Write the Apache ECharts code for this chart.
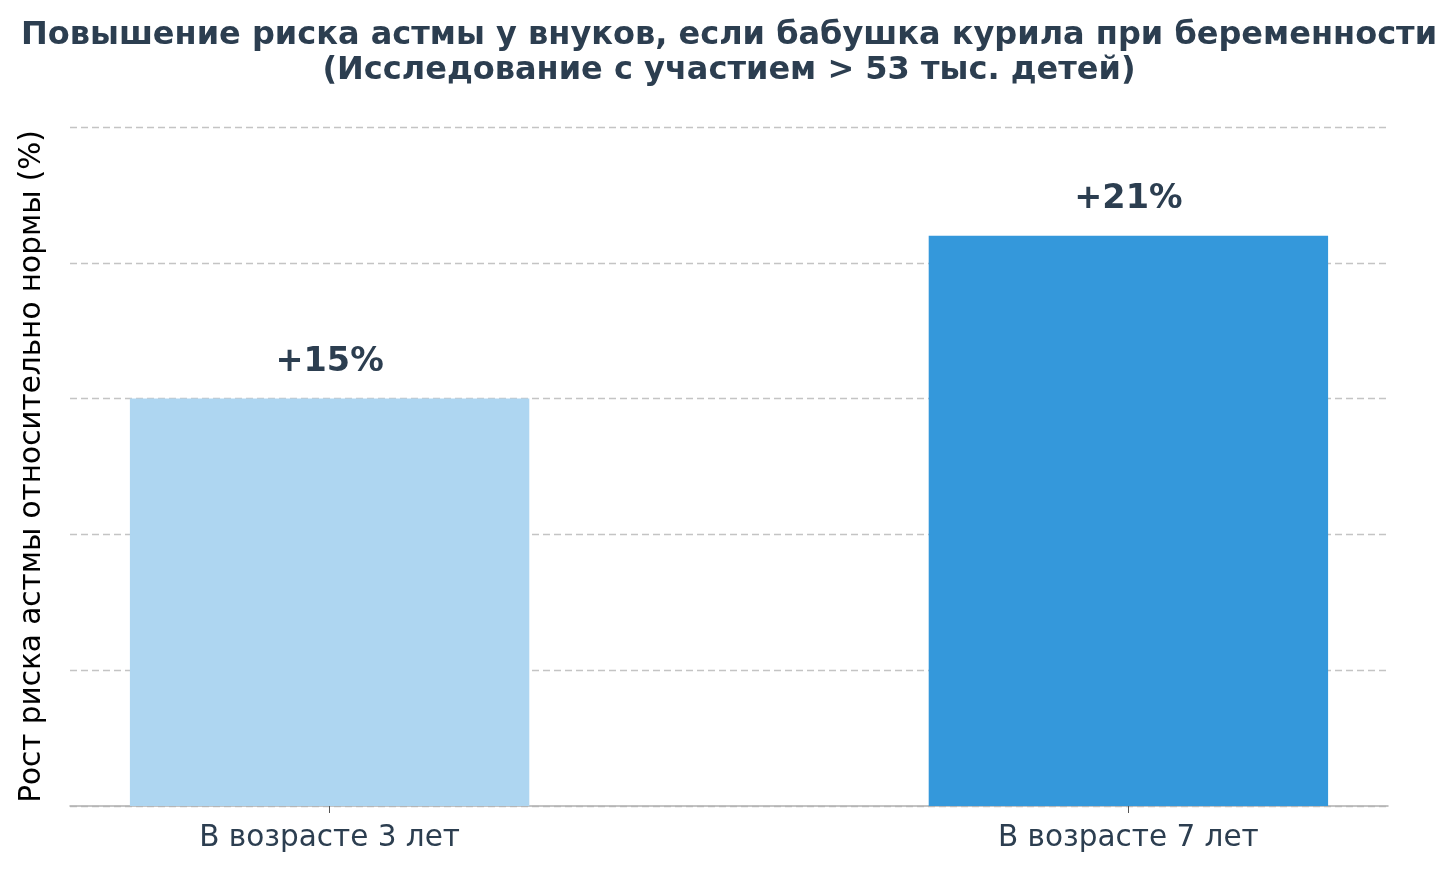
<!DOCTYPE html>
<html>
<head>
<meta charset="utf-8">
<script src="https://cdn.jsdelivr.net/npm/echarts@6/dist/echarts.min.js"></script>
<style>
  html, body { margin: 0; padding: 0; background: #fff; }
  #chart { width: 1456px; height: 870px; }
</style>
</head>
<body>
<div id="chart"></div>
<script>
"use strict";

var categories = ['В возрасте 3 лет', 'В возрасте 7 лет'];
var riskValues = [15, 21];
var barColors = ['#aed6f1', '#3498db'];
var valueLabels = ['+15%', '+21%'];

var chart = echarts.init(document.getElementById('chart'));

// plot area, like matplotlib axes
var gridLeft = 70, gridRight = 68;
var xMin = -0.325, xMax = 1.325;
var gridWidth = 1456 - gridLeft - gridRight;
var barPx = gridWidth * 0.5 / (xMax - xMin);

var option = {
  backgroundColor: '#ffffff',
  title: {
    text: 'Повышение риска астмы у внуков, если бабушка курила при беременности\n(Исследование с участием > 53 тыс. детей)',
    left: 724,
    textAlign: 'center',
    top: 13,
    textStyle: {
      fontFamily: 'DejaVu Sans',
      fontSize: 32,
      fontWeight: 'bold',
      color: '#2c3e50',
      lineHeight: 35
    }
  },
  grid: {
    left: gridLeft,
    right: gridRight,
    top: 127,
    bottom: 64
  },
  xAxis: {
    type: 'value',
    min: xMin,
    max: xMax,
    axisLine: { show: true, lineStyle: { color: '#b0b0b0', width: 1.5 } },
    axisTick: { show: true, length: 7, customValues: [0, 1], lineStyle: { color: '#555' } },
    axisLabel: {
      customValues: [0, 1],
      formatter: function (v) { return categories[Math.round(v)]; },
      fontFamily: 'DejaVu Sans',
      fontSize: 29.5,
      color: '#2c3e50',
      margin: 17
    },
    splitLine: { show: false }
  },
  yAxis: {
    type: 'value',
    min: 0,
    max: 25,
    interval: 5,
    name: 'Рост риска астмы относительно нормы (%)',
    nameLocation: 'middle',
    nameGap: 23,
    nameTextStyle: {
      fontFamily: 'DejaVu Sans',
      fontSize: 29.5,
      color: '#000'
    },
    axisLine: { show: false },
    axisTick: { show: false },
    axisLabel: { show: false },
    splitLine: { show: true, lineStyle: { color: '#c4c4c4', type: [7, 4], width: 1.3 } }
  },
  series: [
    {
      type: 'bar',
      barWidth: barPx,
      data: riskValues.map(function (v, i) {
        return { value: [i, v], itemStyle: { color: barColors[i] } };
      }),
      label: {
        show: true,
        position: 'top',
        distance: 19,
        formatter: function (p) { return valueLabels[p.dataIndex]; },
        fontFamily: 'DejaVu Sans',
        fontSize: 33.5,
        fontWeight: 'bold',
        color: '#2c3e50'
      }
    }
  ]
};

chart.setOption(option);
</script>
</body>
</html>
